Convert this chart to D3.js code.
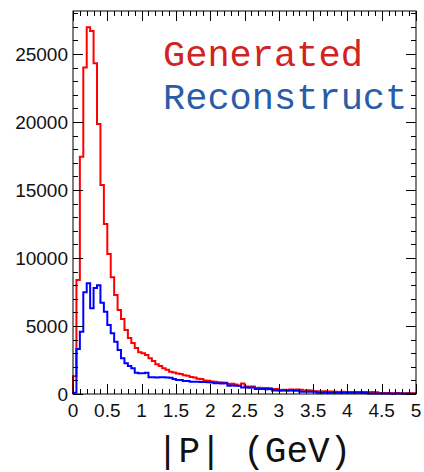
<!DOCTYPE html>
<html>
<head>
<meta charset="utf-8">
<script src="https://cdn.jsdelivr.net/npm/d3@7"></script>
<style>
  html, body { margin: 0; padding: 0; background: #fff; }
  svg { display: block; }
</style>
</head>
<body>
<svg id="chart" width="424" height="472"></svg>
<script>
// Momentum spectrum |P|, 100 bins of 0.05 GeV from 0 to 5 GeV
const binEdgesLow = 0, binEdgesHigh = 5, nBins = 100;

const generated = [
  1300, 8380, 17450, 24000, 26960, 26690, 24320, 19850, 15370, 12500,
  10290, 8580, 7280, 6180, 5510, 4700, 4120, 3750, 3380, 3070,
  2990, 2870, 2620, 2430, 2180, 2060, 1900, 1780, 1640, 1590,
  1500, 1470, 1370, 1340, 1250, 1220, 1130, 1100, 1000, 980,
  910, 900, 870, 850, 830, 740, 750, 700, 610, 780,
  560, 550, 560, 450, 460, 440, 450, 430, 370, 360,
  300, 310, 290, 330, 320, 330, 310, 260, 270, 250,
  200, 210, 190, 200, 180, 190, 160, 150, 160, 150,
  140, 150, 150, 140, 150, 140, 130, 140, 120, 70,
  60, 70, 60, 60, 70, 60, 50, 60, 50, 50
];

const reconstructed = [
  100, 3300, 4580, 7480, 8140, 6300, 7800, 8000, 6710, 6050,
  5070, 4460, 3850, 3240, 2630, 2260, 2060, 1890, 1570, 1530,
  1530, 1570, 1240, 1230, 1220, 1240, 1230, 1220, 1200, 1100,
  1030, 1030, 960, 960, 900, 900, 900, 890, 880, 860,
  850, 790, 790, 780, 790, 610, 620, 610, 600, 480,
  470, 460, 470, 360, 370, 360, 350, 360, 250, 250,
  240, 250, 240, 250, 240, 230, 170, 170, 160, 170,
  160, 100, 100, 110, 100, 100, 90, 100, 100, 90,
  100, 90, 100, 90, 90, 80, 40, 30, 30, 40,
  30, 30, 30, 20, 30, 30, 20, 30, 20, 20
];

const xTickValues = [0, 0.5, 1, 1.5, 2, 2.5, 3, 3.5, 4, 4.5, 5];
const xTickLabels = ["0", "0.5", "1", "1.5", "2", "2.5", "3", "3.5", "4", "4.5", "5"];
const yTickValues = [0, 5000, 10000, 15000, 20000, 25000];
const yTickLabels = ["0", "5000", "10000", "15000", "20000", "25000"];
const seriesNames = ["Generated", "Reconstruct"];
const xTitle = "|P| (GeV)";

const yMax = 28160;

const frame = { left: 73, right: 416, top: 11, bottom: 394 };

const svg = d3.select("#chart");

const x = d3.scaleLinear().domain([binEdgesLow, binEdgesHigh]).range([frame.left, frame.right]);
const y = d3.scaleLinear().domain([0, yMax]).range([frame.bottom, frame.top]);

const binWidth = (binEdgesHigh - binEdgesLow) / nBins;

// Step outline of a histogram, starting and ending on the zero line
function stepPath(values) {
  const pts = [[x(binEdgesLow), y(0)]];
  values.forEach((v, i) => {
    const lo = binEdgesLow + i * binWidth;
    pts.push([x(lo), y(v)]);
    pts.push([x(lo + binWidth), y(v)]);
  });
  return d3.line()(pts);
}

const plot = svg.append("g");

plot.append("path")
  .attr("d", stepPath(generated))
  .attr("fill", "none")
  .attr("stroke", "#ff0000")
  .attr("stroke-width", 2);

plot.append("path")
  .attr("d", stepPath(reconstructed))
  .attr("fill", "none")
  .attr("stroke", "#0000ff")
  .attr("stroke-width", 2);

// Frame
svg.append("rect")
  .attr("x", frame.left).attr("y", frame.top)
  .attr("width", frame.right - frame.left)
  .attr("height", frame.bottom - frame.top)
  .attr("fill", "none").attr("stroke", "#000").attr("stroke-width", 1);

// Ticks on all four sides (major and minor)
const xMinor = d3.range(0, 51).map(i => i * 0.1);
const yMinor = d3.range(0, 29).map(i => i * 1000);
const ticks = svg.append("g").attr("stroke", "#000").attr("stroke-width", 1);

xMinor.forEach(v => {
  const major = Math.abs(v * 2 - Math.round(v * 2)) < 1e-6;
  const len = major ? 10 : 5;
  const px = Math.round(x(v)) + 0.5;
  ticks.append("line").attr("x1", px).attr("x2", px)
    .attr("y1", frame.bottom).attr("y2", frame.bottom - len);
  ticks.append("line").attr("x1", px).attr("x2", px)
    .attr("y1", frame.top).attr("y2", frame.top + len);
});

yMinor.filter(v => v <= yMax).forEach(v => {
  const major = v % 5000 === 0;
  const len = major ? 10 : 5;
  const py = Math.round(y(v)) + 0.5;
  ticks.append("line").attr("x1", frame.left).attr("x2", frame.left + len)
    .attr("y1", py).attr("y2", py);
  ticks.append("line").attr("x1", frame.right).attr("x2", frame.right - len)
    .attr("y1", py).attr("y2", py);
});

// Tick labels
const labelFont = "'Liberation Sans', Arimo, Arial, sans-serif";
svg.append("g").selectAll("text")
  .data(yTickValues)
  .join("text")
  .attr("x", 68)
  .attr("y", (d, i) => y(d) + 7)
  .attr("text-anchor", "end")
  .attr("font-family", labelFont)
  .attr("font-size", 19)
  .attr("fill", "#111")
  .text((d, i) => yTickLabels[i]);

svg.append("g").selectAll("text")
  .data(xTickValues)
  .join("text")
  .attr("x", d => x(d))
  .attr("y", 417)
  .attr("text-anchor", "middle")
  .attr("font-family", labelFont)
  .attr("font-size", 19)
  .attr("fill", "#111")
  .text((d, i) => xTickLabels[i]);

// Axis title
const monoFont = "'Liberation Mono', 'DejaVu Sans Mono', monospace";
svg.append("text")
  .attr("x", 254).attr("y", 462)
  .attr("text-anchor", "middle")
  .attr("font-family", monoFont)
  .attr("font-size", 36)
  .attr("fill", "#111")
  .text(xTitle);

// Legend text
const legendColors = ["#d22222", "#2a5ca8"];
svg.append("g").selectAll("text")
  .data(seriesNames)
  .join("text")
  .attr("x", 163)
  .attr("y", (d, i) => 66 + i * 43)
  .attr("font-family", monoFont)
  .attr("font-size", 37)
  .attr("fill", (d, i) => legendColors[i])
  .text(d => d);
</script>
</body>
</html>
